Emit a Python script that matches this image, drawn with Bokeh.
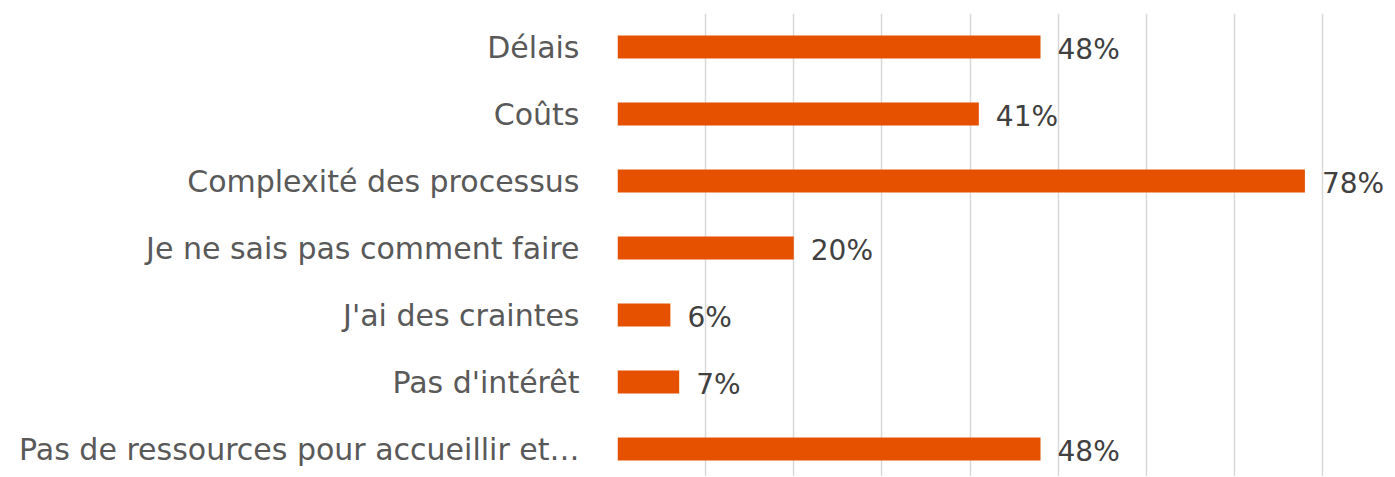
from bokeh.plotting import figure
from bokeh.models import ColumnDataSource, Range1d, FixedTicker, LabelSet
from bokeh.core.properties import value
from bokeh.embed import file_html
from bokeh.resources import INLINE

categories = ["Délais", "Coûts", "Complexité des processus", "Je ne sais pas comment faire",
              "J'ai des craintes", "Pas d'intérêt", "Pas de ressources pour accueillir et…"]
values = [48, 41, 78, 20, 6, 7, 48]
grid_ticks = [0, 10, 20, 30, 40, 50, 60, 70, 80]

FONT = "DejaVu Sans"
pos = list(range(len(categories)))
src = ColumnDataSource(dict(y=pos, v=values, lab=[f"{v}%" for v in values]))

p = figure(width=1392, height=476, output_backend="svg", toolbar_location=None,
           x_range=Range1d(0, 87.94), y_range=Range1d(6.41, -0.5),
           min_border_left=617, min_border_top=13, min_border_bottom=0, min_border_right=0)
p.outline_line_color = None
p.background_fill_color = "white"

p.hbar(y="y", right="v", left=0, height=0.343, source=src, color="#E65100", line_color=None)

labels = LabelSet(x="v", y="y", text="lab", source=src, x_offset=17, y_offset=-2,
                  text_baseline="middle", text_font=value(FONT), text_font_size="28px",
                  text_color="#404040")
p.add_layout(labels)

p.xaxis.visible = False
p.xgrid.ticker = FixedTicker(ticks=grid_ticks)
p.xgrid.grid_line_color = "#D9D9D9"
p.xgrid.grid_line_width = 1.5
p.ygrid.grid_line_color = None

ya = p.yaxis[0]
ya.ticker = FixedTicker(ticks=pos)
ya.major_label_overrides = {i: c for i, c in zip(pos, categories)}
ya.axis_line_color = None
ya.major_tick_line_color = None
ya.minor_tick_line_color = None
ya.major_tick_out = 0
ya.major_label_standoff = 38
ya.major_label_text_font = FONT
ya.major_label_text_font_size = "30px"
ya.major_label_text_color = "#595959"
ya.major_label_text_font_style = "normal"

open("out.html", "w").write(file_html(p, INLINE))
